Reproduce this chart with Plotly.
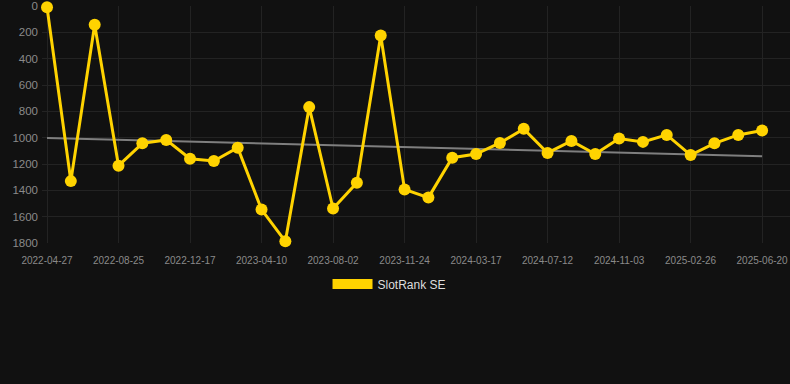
import plotly.graph_objects as go

dates = [
    "2022-04-27", "2022-06-06", "2022-07-16", "2022-08-25", "2022-10-02", "2022-11-09",
    "2022-12-17", "2023-01-24", "2023-03-03", "2023-04-10", "2023-05-18", "2023-06-25",
    "2023-08-02", "2023-09-09", "2023-10-17", "2023-11-24", "2024-01-01", "2024-02-08",
    "2024-03-17", "2024-04-24", "2024-06-04", "2024-07-12", "2024-08-19", "2024-09-26",
    "2024-11-03", "2024-12-11", "2025-01-18", "2025-02-26", "2025-04-05", "2025-05-13",
    "2025-06-20",
]
ranks = [
    10, 1330, 143, 1213, 1043, 1017, 1160, 1177, 1076, 1546, 1787, 768, 1538, 1343, 224,
    1393, 1455, 1152, 1124, 1040, 933, 1116, 1025, 1124, 1007, 1032, 979, 1132, 1043, 979,
    946,
]
trend_dates = [dates[0], dates[-1]]
trend_values = [1002, 1142]
tick_dates = dates[::3]
y_ticks = [0, 200, 400, 600, 800, 1000, 1200, 1400, 1600, 1800]
series_name = "SlotRank SE"

GOLD = "#FFD300"
BG = "#111111"
GRID = "#232323"

fig = go.Figure()
fig.add_trace(go.Scatter(
    x=trend_dates, y=trend_values, mode="lines",
    line=dict(color="#7f7f7f", width=2), showlegend=False, hoverinfo="skip",
))
fig.add_trace(go.Scatter(
    x=dates, y=ranks, mode="lines+markers", name=series_name,
    line=dict(color=GOLD, width=3),
    marker=dict(color=GOLD, size=12),
    showlegend=False, cliponaxis=False,
))
fig.add_trace(go.Scatter(
    x=[None], y=[None], mode="lines", name=series_name,
    line=dict(color=GOLD, width=12), showlegend=True,
))

fig.update_layout(
    width=790, height=384,
    paper_bgcolor=BG, plot_bgcolor=BG,
    margin=dict(l=42, r=0, t=6, b=141),
    font=dict(family="Liberation Sans, Arial, sans-serif", color="#8a8a8a", size=11),
    showlegend=True,
    legend=dict(
        orientation="h", x=0.4646, xanchor="center", y=-0.173, yanchor="middle",
        font=dict(color="#dddddd", size=12), bgcolor="rgba(0,0,0,0)",
        itemwidth=40,
    ),
    xaxis=dict(
        type="category", categoryorder="array", categoryarray=dates,
        range=[-0.21, 31.17],
        tickmode="array", tickvals=tick_dates, ticktext=tick_dates,
        showgrid=True, gridcolor=GRID, gridwidth=1,
        zeroline=False, showline=False, ticks="",
        tickfont=dict(size=10, color="#8a8a8a"),
        ticklabeloverflow="allow", ticklabelstandoff=10,
    ),
    yaxis=dict(
        range=[1800, 0], tickvals=y_ticks,
        showgrid=True, gridcolor=GRID, gridwidth=1,
        zeroline=False, showline=False, ticks="",
        tickfont=dict(size=11.5, color="#8a8a8a"),
        ticklabeloverflow="allow", ticklabelstandoff=3,
    ),
)

fig.write_html(
    "out.html",
    config={"displayModeBar": False},
    post_script="document.body.style.margin='0';",
)
